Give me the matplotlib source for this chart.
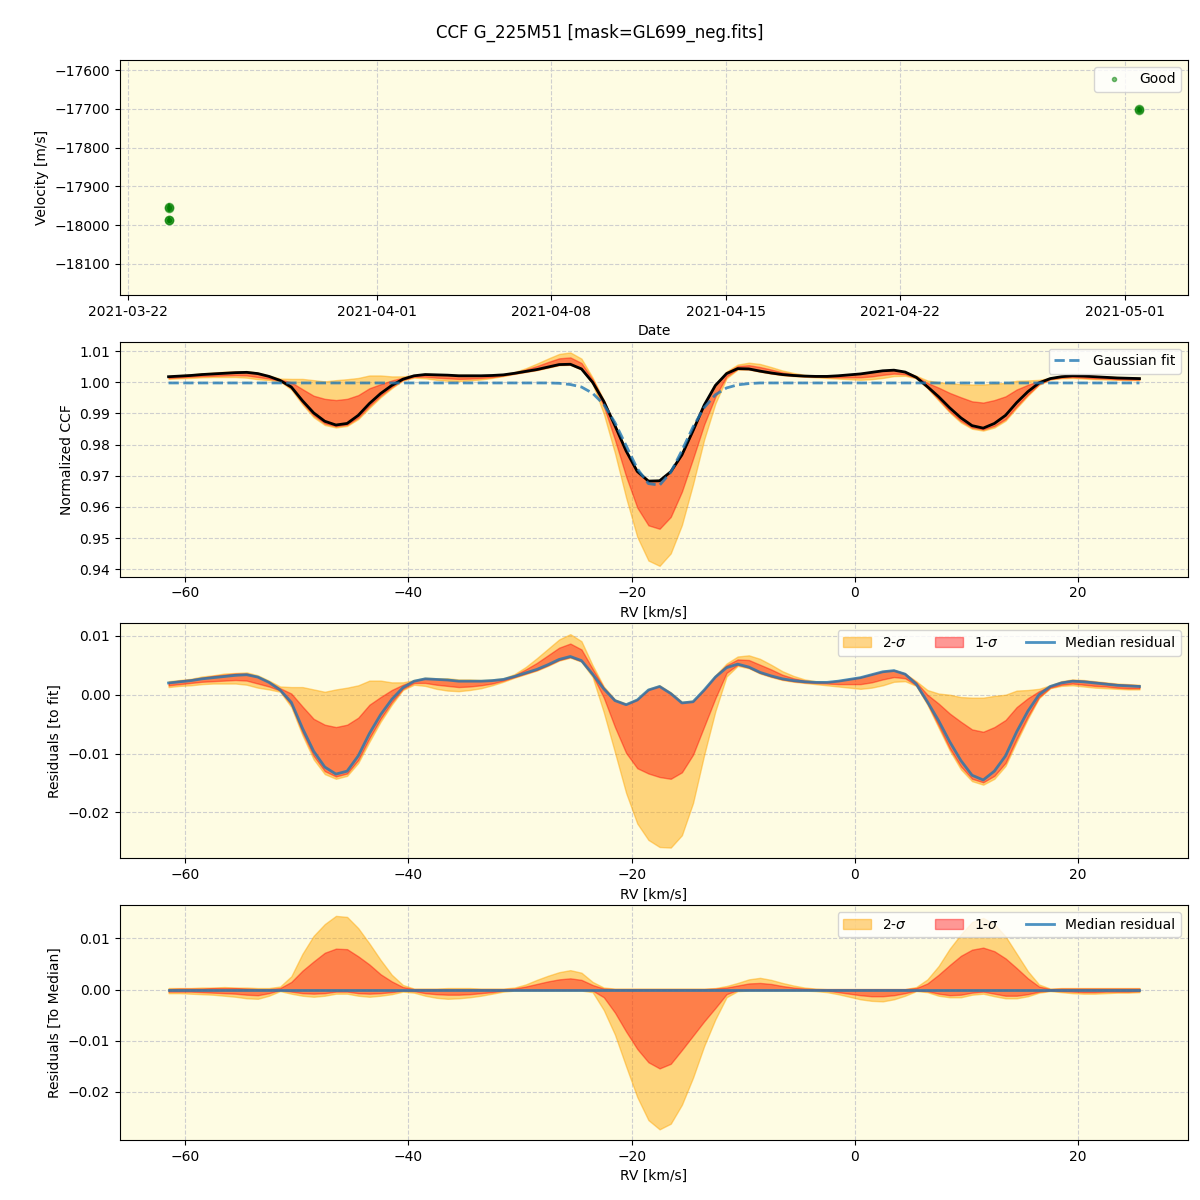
import numpy as np
import pandas as pd
import matplotlib
matplotlib.use("Agg")
import matplotlib.pyplot as plt
from matplotlib.ticker import MultipleLocator

# ---- velocity time series (top panel) ----
obs_dates = ['2021-03-23 15:30', '2021-03-23 15:40', '2021-03-23 15:50',
             '2021-03-23 16:00', '2021-05-01 14:00', '2021-05-01 14:10']
obs_vel = [-17953, -17956, -17988, -17986, -17702, -17701]
obs_err = [10, 10, 8, 8, 6, 6]

# ---- CCF profiles ----
rv = np.arange(-61.5, 26.0, 1.0)  # km/s grid, 88 points

gauss_fit = ([0.9998] * 35 +
             [0.9997, 0.9993, 0.9985, 0.9965, 0.9929, 0.9871, 0.9797, 0.9723, 0.9675,
              0.9670, 0.9711, 0.9781, 0.9857, 0.9919, 0.9960, 0.9982, 0.9992, 0.9996] +
             [0.9998] * 35)

# median CCF minus gaussian fit
resid_fit = [0.0020, 0.0022, 0.0024, 0.0027, 0.0029, 0.0031, 0.0033, 0.0034, 0.0030, 0.0021,
             0.0008, -0.0013, -0.0057, -0.0096, -0.0123, -0.0135, -0.0130, -0.0104, -0.0066, -0.0034,
             -0.0008, 0.0012, 0.0023, 0.0027, 0.0026, 0.0025, 0.0023, 0.0023, 0.0023, 0.0024,
             0.0026, 0.0031, 0.0037, 0.0043, 0.0051, 0.0060, 0.0065, 0.0058, 0.0035, 0.0010,
             -0.0010, -0.0017, -0.0009, 0.0008, 0.0014, 0.0002, -0.0014, -0.0012, 0.0008, 0.0030,
             0.0046, 0.0052, 0.0047, 0.0038, 0.0032, 0.0027, 0.0024, 0.0022, 0.0021, 0.0021,
             0.0023, 0.0026, 0.0029, 0.0034, 0.0039, 0.0041, 0.0035, 0.0018, -0.0012, -0.0044,
             -0.0080, -0.0112, -0.0137, -0.0145, -0.0130, -0.0104, -0.0063, -0.0028, 0.0000, 0.0014,
             0.0020, 0.0023, 0.0022, 0.0020, 0.0018, 0.0016, 0.0015, 0.0014]

# percentile bands relative to the median CCF
lo2 = [-0.0007, -0.0007, -0.0008, -0.0009, -0.0010, -0.0012, -0.0014, -0.0017, -0.0018, -0.0012,
       -0.0003, -0.0008, -0.0012, -0.0014, -0.0012, -0.0008, -0.0008, -0.0012, -0.0014, -0.0012,
       -0.0009, -0.0004, -0.0006, -0.0012, -0.0016, -0.0018, -0.0017, -0.0015, -0.0012, -0.0008,
       -0.0004, -0.0002, -0.0002, -0.0002, -0.0002, -0.0002, -0.0002, -0.0002, -0.0005, -0.0040,
       -0.0088, -0.0150, -0.0210, -0.0255, -0.0273, -0.0262, -0.0225, -0.0172, -0.0110, -0.0058,
       -0.0015, -0.0003, -0.0002, -0.0002, -0.0002, -0.0002, -0.0002, -0.0002, -0.0003, -0.0005,
       -0.0009, -0.0014, -0.0019, -0.0022, -0.0023, -0.0019, -0.0012, -0.0003, -0.0005, -0.0012,
       -0.0015, -0.0015, -0.0010, -0.0008, -0.0013, -0.0017, -0.0017, -0.0013, -0.0006, -0.0003,
       -0.0005, -0.0007, -0.0008, -0.0008, -0.0007, -0.0006, -0.0006, -0.0005]
lo1 = [-0.0004, -0.0004, -0.0004, -0.0005, -0.0006, -0.0007, -0.0008, -0.0010, -0.0011, -0.0007,
       -0.0001, -0.0004, -0.0007, -0.0008, -0.0007, -0.0004, -0.0004, -0.0007, -0.0008, -0.0007,
       -0.0005, -0.0002, -0.0003, -0.0007, -0.0009, -0.0010, -0.0010, -0.0009, -0.0007, -0.0005,
       -0.0002, -0.0001, -0.0001, -0.0001, -0.0001, -0.0001, -0.0001, -0.0001, -0.0002, -0.0015,
       -0.0045, -0.0082, -0.0116, -0.0142, -0.0154, -0.0145, -0.0118, -0.0090, -0.0062, -0.0036,
       -0.0009, -0.0001, -0.0001, -0.0001, -0.0001, -0.0001, -0.0001, -0.0001, -0.0001, -0.0002,
       -0.0005, -0.0008, -0.0011, -0.0013, -0.0013, -0.0011, -0.0007, -0.0002, -0.0003, -0.0008,
       -0.0011, -0.0010, -0.0006, -0.0004, -0.0008, -0.0012, -0.0012, -0.0009, -0.0004, -0.0002,
       -0.0003, -0.0004, -0.0005, -0.0005, -0.0004, -0.0004, -0.0004, -0.0003]
hi1 = [0.0001, 0.0002, 0.0002, 0.0002, 0.0003, 0.0003, 0.0003, 0.0002, 0.0001, 0.0001,
       0.0003, 0.0015, 0.0037, 0.0055, 0.0072, 0.0080, 0.0079, 0.0065, 0.0049, 0.0030,
       0.0016, 0.0005, 0.0001, 0.0001, 0.0001, 0.0001, 0.0001, 0.0001, 0.0001, 0.0001,
       0.0001, 0.0002, 0.0006, 0.0011, 0.0016, 0.0020, 0.0022, 0.0019, 0.0009, 0.0002,
       0.0001, 0.0001, 0.0001, 0.0001, 0.0001, 0.0001, 0.0001, 0.0001, 0.0001, 0.0002,
       0.0004, 0.0008, 0.0012, 0.0013, 0.0011, 0.0007, 0.0004, 0.0002, 0.0001, 0.0001,
       0.0001, 0.0001, 0.0001, 0.0001, 0.0001, 0.0001, 0.0001, 0.0003, 0.0012, 0.0029,
       0.0048, 0.0066, 0.0078, 0.0082, 0.0075, 0.0061, 0.0042, 0.0022, 0.0006, 0.0001,
       0.0002, 0.0002, 0.0002, 0.0002, 0.0002, 0.0002, 0.0002, 0.0002]
hi2 = [0.0003, 0.0003, 0.0003, 0.0004, 0.0004, 0.0005, 0.0004, 0.0004, 0.0003, 0.0003,
       0.0006, 0.0026, 0.0070, 0.0105, 0.0128, 0.0144, 0.0142, 0.0120, 0.0090, 0.0058,
       0.0029, 0.0009, 0.0002, 0.0002, 0.0002, 0.0003, 0.0003, 0.0003, 0.0002, 0.0002,
       0.0002, 0.0004, 0.0010, 0.0019, 0.0027, 0.0034, 0.0038, 0.0033, 0.0015, 0.0004,
       0.0002, 0.0002, 0.0002, 0.0002, 0.0002, 0.0002, 0.0002, 0.0002, 0.0002, 0.0003,
       0.0007, 0.0013, 0.0020, 0.0023, 0.0019, 0.0013, 0.0008, 0.0004, 0.0002, 0.0001,
       0.0001, 0.0001, 0.0001, 0.0001, 0.0001, 0.0001, 0.0001, 0.0005, 0.0020, 0.0046,
       0.0080, 0.0108, 0.0132, 0.0140, 0.0128, 0.0104, 0.0070, 0.0036, 0.0010, 0.0002,
       0.0003, 0.0003, 0.0003, 0.0003, 0.0003, 0.0003, 0.0003, 0.0003]

fit = np.array(gauss_fit)
med = fit + np.array(resid_fit)
lo2, lo1, hi1, hi2 = map(np.array, (lo2, lo1, hi1, hi2))

bg = '#fefce3'
grid_kw = dict(color='#cfcfcf', linestyle='--', linewidth=0.8)

fig, axes = plt.subplots(4, 1, figsize=(12, 12))
fig.subplots_adjust(left=0.1, right=0.99, top=0.95, bottom=0.05, hspace=0.2)
fig.suptitle('CCF G_225M51 [mask=GL699_neg.fits]', fontsize=12, y=0.98)

# top panel: velocities
ax = axes[0]
dates = pd.to_datetime(obs_dates)
ax.errorbar(dates, obs_vel, yerr=obs_err, fmt='o', color='green', alpha=0.5, ms=6)
ax.plot(dates, obs_vel, '.', color='green', alpha=0.5, label='Good')
ax.set_ylim(-18180, -17574)
ax.set_xlabel('Date')
ax.set_ylabel('Velocity [m/s]')
ax.legend(loc='upper right')

# CCF panel
ax = axes[1]
ax.fill_between(rv, med + lo2, med + hi2, color='orange', alpha=0.45)
ax.fill_between(rv, med + lo1, med + hi1, color='red', alpha=0.4)
ax.plot(rv, med, color='black', lw=2, solid_joinstyle='round')
ax.plot(rv, fit, '--', color='C0', alpha=0.8, lw=2, label='Gaussian fit')
ax.set_xlabel('RV [km/s]')
ax.set_ylabel('Normalized CCF')
ax.legend(loc='upper right')

# residuals to fit
ax = axes[2]
ax.fill_between(rv, med + lo2 - fit, med + hi2 - fit, color='orange', alpha=0.45, label=r'2-$\sigma$')
ax.fill_between(rv, med + lo1 - fit, med + hi1 - fit, color='red', alpha=0.4, label=r'1-$\sigma$')
ax.plot(rv, med - fit, color='C0', alpha=0.8, lw=2, solid_joinstyle='round', label='Median residual')
ax.yaxis.set_major_locator(MultipleLocator(0.01))
ax.set_xlabel('RV [km/s]')
ax.set_ylabel('Residuals [to fit]')
ax.legend(loc='upper right', ncol=3)

# residuals to median
ax = axes[3]
ax.fill_between(rv, lo2, hi2, color='orange', alpha=0.45, label=r'2-$\sigma$')
ax.fill_between(rv, lo1, hi1, color='red', alpha=0.4, label=r'1-$\sigma$')
ax.plot(rv, med - med, color='C0', alpha=0.8, lw=2, label='Median residual')
ax.yaxis.set_major_locator(MultipleLocator(0.01))
ax.set_xlabel('RV [km/s]')
ax.set_ylabel('Residuals [To Median]')
ax.legend(loc='upper right', ncol=3)

for ax in axes:
    ax.set_facecolor(bg)
    ax.grid(True, **grid_kw)
    ax.set_axisbelow(True)

fig.savefig('out.png', dpi=100)
